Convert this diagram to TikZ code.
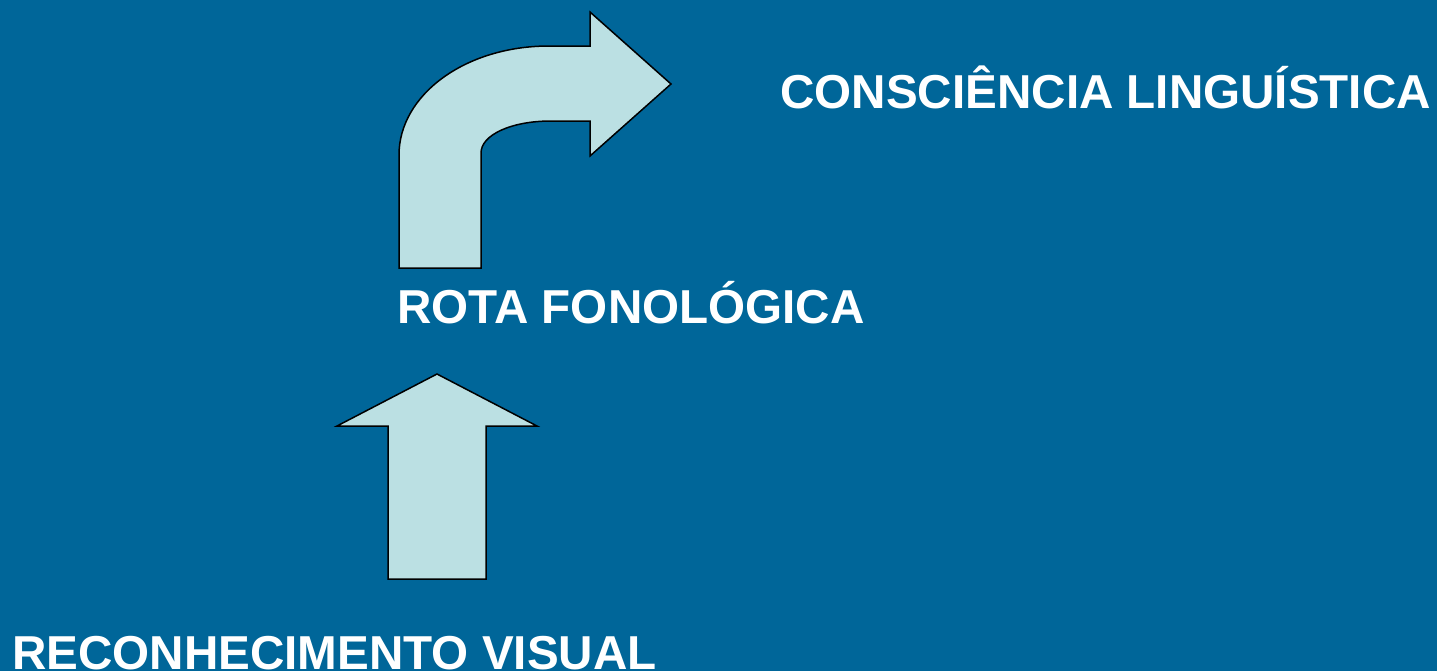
\documentclass[tikz,border=0pt]{standalone}
\usepackage{fontspec}
\setmainfont{Liberation Sans}
\usepackage{xcolor}
\definecolor{slideblue}{HTML}{006699}
\definecolor{arrowfill}{HTML}{BBE0E3}

\begin{document}
\begin{tikzpicture}[x=0.5pt,y=-0.5pt,
  blockarrow/.style={fill=arrowfill, draw=black, line width=0.75pt, line join=miter},
  label/.style={anchor=base west, inner sep=0pt, text=white, font=\fontsize{23.8}{28}\selectfont\bfseries}]

\fill[slideblue] (0,0) rectangle (1437,671);
\useasboundingbox (0,0) rectangle (1437,671);

% bent arrow (top)
\draw[blockarrow] (399,268) -- (399,155)
  .. controls (399,95) and (465,46) .. (549,46)
  -- (590,46) -- (590,12) -- (671,84) -- (590,156) -- (590,121) -- (551,121)
  .. controls (511,121) and (481,135) .. (481,153)
  -- (481,268) -- cycle;

% straight arrow (bottom)
\draw[blockarrow] (388,579) -- (388,426) -- (337,426) -- (437,374)
  -- (537,426) -- (486,426) -- (486,579) -- cycle;

\node[label] (consc) at (780,108) {CONSCIÊNCIA LINGUÍSTICA};
\node[label] (rota) at (397,323) {ROTA FONOLÓGICA};
\node[label] (recon) at (12,669) {RECONHECIMENTO VISUAL};

\end{tikzpicture}
\end{document}
